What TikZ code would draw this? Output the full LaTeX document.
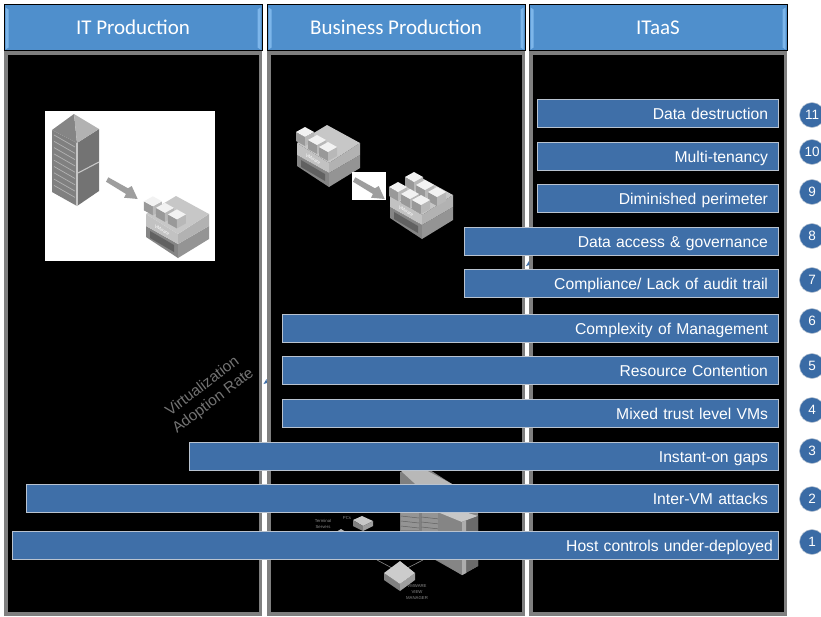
\documentclass[tikz,border=0pt]{standalone}
\usepackage{fontspec}
\setmainfont{Liberation Sans}
\newfontfamily\headfont{Carlito}
\usetikzlibrary{calc}
\definecolor{hdrblue}{HTML}{4F8FCC}
\definecolor{hdredge}{HTML}{7DB6EA}
\definecolor{barfill}{HTML}{3F6FA8}
\definecolor{barline}{HTML}{B9C3D0}
\definecolor{dotfill}{HTML}{3A6BA5}
\definecolor{panelgray}{HTML}{7F7F7F}
\tikzset{
  x=1pt,y=-1pt,outer sep=0pt,
  header/.style={draw=black,fill=hdrblue,line width=0.9pt,minimum width=258,minimum height=46,anchor=north west,inner sep=0,text=white,font=\headfont\fontsize{21}{23}\selectfont},
  panel/.style={draw=panelgray,fill=black,line width=3.5pt,anchor=north west,inner sep=0,minimum width=254.5,minimum height=561},
  riskbar/.style={draw=barline,fill=barfill,line width=1pt,minimum height=28,anchor=west,align=right,text=white,inner ysep=0,text height=12.5,text depth=0.5,font=\fontsize{15.7}{13}\selectfont},
  numdot/.style={circle,fill=dotfill,draw=barline,line width=0.5pt,minimum size=25,inner sep=0,text=white,font=\fontsize{13.5}{14}\selectfont},
  tiny/.style={text=black!45,inner sep=0,font=\fontsize{4.3}{5.4}\selectfont,align=center},
  wire/.style={draw=black!45,line width=0.6pt},
  vmcube/.pic={
    \fill[black!40] (-9,0) -- (0,5) -- (0,14) -- (-9,9) -- cycle;
    \fill[black!28] (9,0) -- (0,5) -- (0,14) -- (9,9) -- cycle;
    \fill[black!5] (-9,0) -- (0,-5) -- (9,0) -- (0,5) -- cycle;
  },
  hostbase/.pic={
    \fill[black!48] (-32,-32) -- (0,-14) -- (0,0) -- (-32,-21) -- cycle;
    \fill[black!42] (31,-32) -- (0,-14) -- (0,0) -- (31,-19) -- cycle;
    \fill[black!62] (-28,-27) -- (-4,-13) -- (-4,-6) -- (-28,-20) -- cycle;
    \fill[black!24] (-32,-44) -- (0,-24) -- (0,-14) -- (-32,-32) -- cycle;
    \fill[black!30] (31,-44) -- (0,-24) -- (0,-14) -- (31,-32) -- cycle;
    \fill[black!22] (-32,-44) -- (-2,-62) -- (31,-44) -- (0,-24) -- cycle;
    \node[rotate=-30,text=white,inner sep=0,font=\fontsize{4.5}{5}\selectfont] at (-16,-28) {VMware};
  },
  blockarrow/.pic={
    \fill[black!38] (0,3.7) -- (2.3,-0.7) -- (22,10.3) -- (25.7,8) -- (31.7,21) -- (18,19.7) -- (20,16) -- cycle;
  },
}
\begin{document}
\begin{tikzpicture}
\useasboundingbox (0,0) rectangle (821,616);
\fill[white] (0,0) rectangle (821,616);

% panels
\node[panel] (bodyA) at (5.75,52.75) {};
\node[panel] (bodyB) at (268.75,52.75) {};
\node[panel] (bodyC) at (530.75,52.75) {};

% headers
\node[header] (headA) at (4,4.5) {IT Production};
\node[header] (headB) at (267,4.5) {Business Production};
\node[header] (headC) at (529,4.5) {ITaaS};
\foreach \h in {headA,headB,headC}{
  \fill[hdredge] ($(\h.north west)+(1.5,3)$) -- ++(3,2) -- ($(\h.south west)+(4.5,-3)$) -- ++(-3,2) -- cycle;
  \fill[hdredge] ($(\h.north east)+(-1.5,3)$) -- ++(-3,2) -- ($(\h.south east)+(-4.5,-3)$) -- ++(3,2) -- cycle;
}

% IT production picture
\node[fill=white,minimum width=170,minimum height=150,inner sep=0,anchor=north west] (imgA) at (45,111) {};
\fill[black!50] (52,130) -- (77,143) -- (77,206) -- (52,192) -- cycle;
\fill[black!55] (77,143) -- (99,129) -- (99,191) -- (77,206) -- cycle;
\fill[black!48] (52,130) -- (74,114) -- (77,143) -- cycle;
\fill[black!30] (74,114) -- (99,129) -- (77,143) -- cycle;
\foreach \k in {0,...,8}{
  \draw[black!30,line width=0.7pt] (54,{135+\k*6.3}) -- (75,{147+\k*6.3});
}
\draw[black!22,line width=1.1pt] (78,173) -- (99,162);
\draw[black!22,line width=1.1pt] (77,143) -- (77,206);
\pic at (106,178) {blockarrow};
\begin{scope}[shift={(178,258)},scale=1.09]
  \pic {hostbase};
  \pic at (-23,-52) {vmcube};
  \pic at (-12,-46) {vmcube};
  \pic at (-1,-40) {vmcube};
\end{scope}

% Business production pictures
\begin{scope}[shift={(329,187)}]
  \pic {hostbase};
  \pic at (-24,-55) {vmcube};
  \pic at (-12,-47) {vmcube};
  \pic at (-1,-40) {vmcube};
\end{scope}
\node[fill=white,minimum width=34,minimum height=28,inner sep=0,anchor=north west] (imgB) at (352,172) {};
\pic at (353,178) {blockarrow};
\begin{scope}[shift={(422,239)}]
  \pic {hostbase};
  \pic at (-8,-62) {vmcube};
  \pic at (3,-54) {vmcube};
  \pic at (15,-47) {vmcube};
  \pic at (-24,-52) {vmcube};
  \pic at (-12,-45) {vmcube};
  \pic at (-1,-39) {vmcube};
\end{scope}

% rack bank at the foot of the middle panel
\fill[black!50] (400,472) -- (430,470) -- (452,484) -- (462,575) -- (400,540) -- cycle;
\fill[black!28] (401,471) -- (422,468) -- (452,484) -- (424,492) -- cycle;
\foreach \k in {0,1,2}{
  \fill[black!42] ({401+\k*20.5},{512+\k*1}) rectangle ++(18,18);
  \foreach \j in {0,1,2}{\draw[black!62,line width=0.5pt] ({401+\k*20.5},{516+\j*5+\k}) -- ++(18,2);}
}
\fill[black!48] (438,512) -- (478,512) -- (478,566) -- (462,575) -- (438,560) -- cycle;
\fill[black!22] (440,513) -- (458,510) -- (478,516) -- (462,522) -- cycle;
\fill[black!58] (462,522) -- (478,516) -- (478,566) -- (462,575) -- cycle;
\fill[black!32] (462,522) -- (466,520) -- (466,573) -- (462,575) -- cycle;

% small network items
\coordinate (pcbox) at (362,523);
\fill[black!22] (353,520) -- (362,516) -- (373,521) -- (363,526) -- cycle;
\fill[black!50] (353,520) -- (363,526) -- (363,531) -- (353,526) -- cycle;
\fill[black!38] (373,521) -- (363,526) -- (363,531) -- (373,526) -- cycle;
\fill[black!30] (336,532) -- (341,529) -- (346,532) -- (341,535) -- cycle;
\node[tiny] (lblts) at (323,524) {Terminal\\[0.6pt]Servers};
\node[tiny] (lblpc) at (347,518) {PCs};

\coordinate (viewL) at (377,560);
\coordinate (viewR) at (423,560);
\coordinate (viewN) at (399.5,572);
\draw[wire] (viewL) -- (viewN);
\draw[wire] (viewR) -- (viewN);
\fill[black!50] (384,573) -- (400,584) -- (400,591) -- (384,580) -- cycle;
\fill[black!38] (415,573) -- (400,584) -- (400,591) -- (415,580) -- cycle;
\fill[black!20] (384,573) -- (400,561) -- (415,573) -- (400,584) -- cycle;
\node[tiny] (lblvw) at (417,592) {VMWARE\\[0.5pt]VIEW\\[0.5pt]MANAGER};

% stray specks
\fill[barfill] (263.5,384) -- (266.5,379) -- (267,383) -- cycle;
\fill[barfill] (526,266) -- (529,261) -- (529.5,265) -- cycle;

% rotated axis caption
\node[rotate=37,text=black!55,align=center,inner sep=0,font=\fontsize{15.3}{18}\selectfont] (axis) at (208,394) {Virtualization\\Adoption Rate};

% bars
\newcommand{\riskbar}[5]{%
  \pgfmathsetmacro{\wid}{778-#2-2*#4}
  \node[riskbar,inner xsep=#4,text width=\wid] (#1) at (#2,#3) {#5};
}
\riskbar{r11}{537}{113}{10}{Data destruction}
\riskbar{r10}{537}{156}{10}{Multi-tenancy}
\riskbar{r9}{537}{198}{10}{Diminished perimeter}
\riskbar{r8}{464}{241}{10}{Data access \& governance}
\riskbar{r7}{464}{283}{10}{Compliance/ Lack of audit trail}
\riskbar{r6}{282}{328}{10}{Complexity of Management}
\riskbar{r5}{282}{370}{10}{Resource Contention}
\riskbar{r4}{282}{413}{10}{Mixed trust level VMs}
\riskbar{r3}{189}{456}{10}{Instant-on gaps}
\riskbar{r2}{26}{498}{10}{Inter-VM attacks}
\riskbar{r1}{12}{545}{5}{Host controls under-deployed}

% numbers
\node[numdot] (n11) at (812,115) {11};
\node[numdot] (n10) at (812,152) {10};
\node[numdot] (n9) at (812,192) {9};
\node[numdot] (n8) at (812,236) {8};
\node[numdot] (n7) at (812,280) {7};
\node[numdot] (n6) at (812,321) {6};
\node[numdot] (n5) at (812,366) {5};
\node[numdot] (n4) at (812,410) {4};
\node[numdot] (n3) at (812,451) {3};
\node[numdot] (n2) at (812,499) {2};
\node[numdot] (n1) at (812,542) {1};
\end{tikzpicture}
\end{document}
